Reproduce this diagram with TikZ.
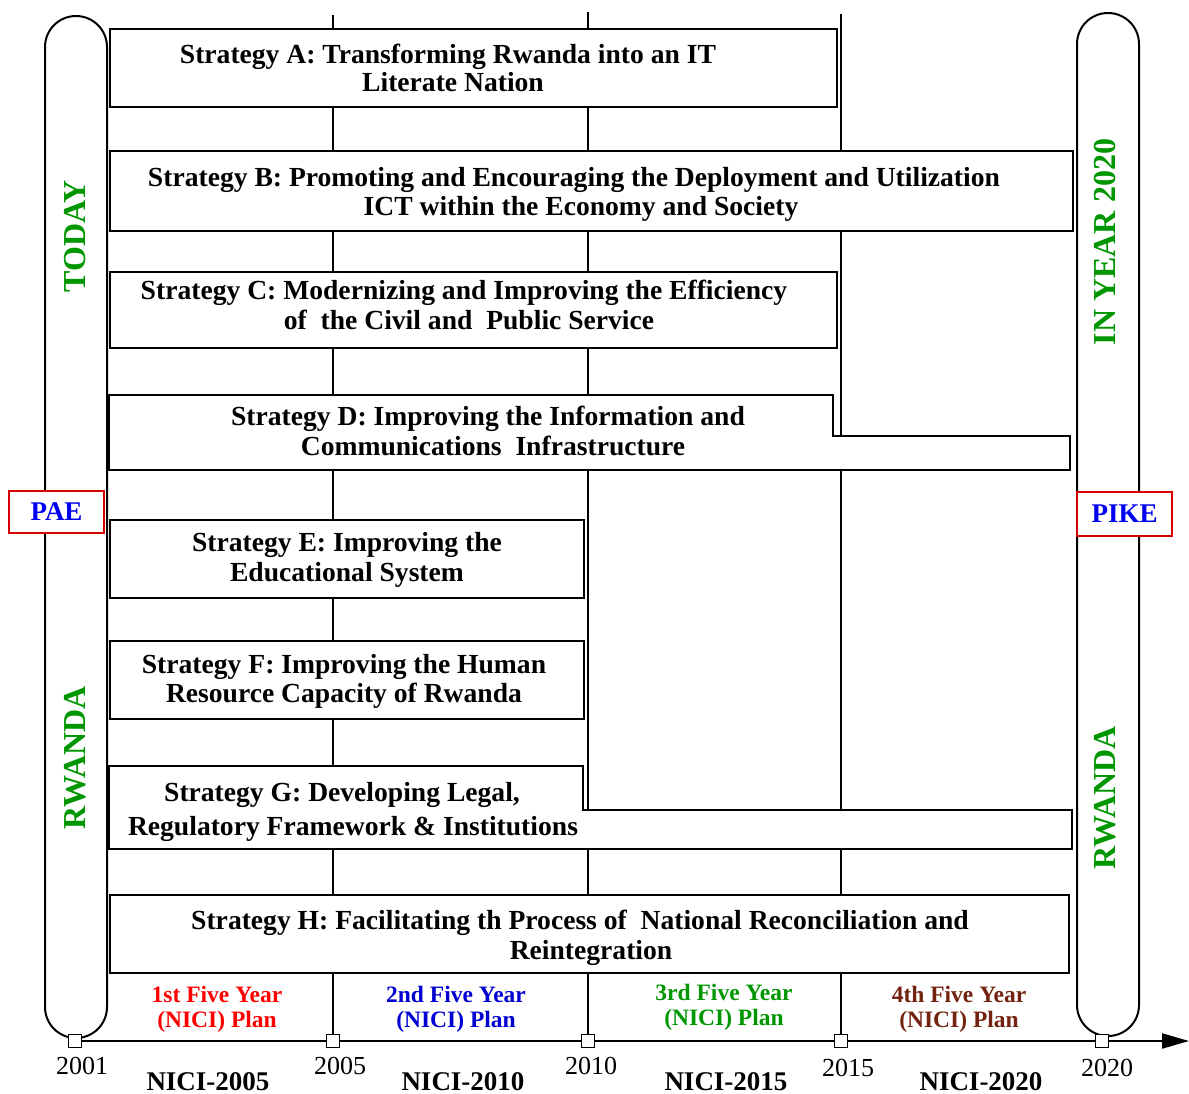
\documentclass[tikz,border=0pt]{standalone}
\usepackage{fontspec}
\setmainfont{Liberation Serif}
\usetikzlibrary{arrows.meta}
\definecolor{nicigreen}{RGB}{0,150,0}
\definecolor{nicired}{RGB}{255,0,0}
\definecolor{niciblue}{RGB}{0,0,210}
\definecolor{nicibrown}{RGB}{115,35,15}
\definecolor{tagred}{RGB}{215,0,0}
\definecolor{tagblue}{RGB}{0,0,240}

\begin{document}
\begin{tikzpicture}[x=1pt,y=-1pt,
  frame/.style={draw=black,line width=2pt,fill=white},
  boxnode/.style={frame,rectangle,inner sep=0pt,outer sep=0pt,anchor=north west},
  capsule/.style={draw=black,line width=2pt,rectangle,rounded corners=31pt,inner sep=0pt,anchor=north west,minimum width=62pt},
  strat/.style={anchor=base,inner sep=0pt,font=\fontsize{27.6}{29}\selectfont\bfseries},
  sidetext/.style={rotate=90,inner sep=0pt,text=nicigreen,font=\fontsize{32}{34}\selectfont\bfseries},
  tag/.style={draw=tagred,line width=1.6pt,fill=white,text=tagblue,inner sep=0pt,minimum width=95pt,font=\fontsize{27}{29}\selectfont\bfseries},
  tick/.style={draw=black,line width=1.6pt,fill=white,rectangle,inner sep=0pt,minimum size=13pt},
  divider/.style={draw=black,line width=1.8pt},
  plan/.style={align=center,inner sep=0pt,font=\fontsize{23.5}{25}\selectfont\bfseries},
  year/.style={anchor=base,inner sep=0pt,font=\fontsize{26}{28}\selectfont},
  nici/.style={anchor=base,inner sep=0pt,font=\fontsize{27}{29}\selectfont\bfseries}
]
\useasboundingbox (0,0) rectangle (1189,1094);

% side capsules
\node[capsule,minimum height=1022pt] (capL) at (44,15) {};
\node[capsule,minimum height=1023pt] (capR) at (1076,12) {};

% time axis ticks
\node[tick] (m2001) at (75,1041) {};
\node[tick] (m2005) at (333,1041) {};
\node[tick] (m2010) at (588,1041) {};
\node[tick] (m2015) at (841,1041) {};
\node[tick] (m2020) at (1102,1041) {};
\coordinate (t2005) at (333,15);
\coordinate (t2010) at (588,12);
\coordinate (t2015) at (841,14);
\coordinate (tip) at (1189,1041);

% five-year dividers
\draw[divider] (t2005) -- (m2005.north);
\draw[divider] (t2010) -- (m2010.north);
\draw[divider] (t2015) -- (m2015.north);

% axis
\draw[line width=2pt,-{Triangle[length=27pt,width=15pt]}] (m2001.east) -- (tip);
\node[tick] at (m2001) {};
\node[tick] at (m2005) {};
\node[tick] at (m2010) {};
\node[tick] at (m2015) {};
\node[tick] at (m2020) {};

% strategy boxes
\node[boxnode,minimum width=727pt,minimum height=78pt] (boxA) at (110,29) {};
\node[boxnode,minimum width=963pt,minimum height=80pt] (boxB) at (110,151) {};
\node[boxnode,minimum width=727pt,minimum height=76pt] (boxC) at (110,272) {};
\draw[frame] (109,395) -- (833,395) -- (833,436) -- (1070,436) -- (1070,470) -- (109,470) -- cycle;
\node[boxnode,minimum width=474pt,minimum height=78pt] (boxE) at (110,520) {};
\node[boxnode,minimum width=474pt,minimum height=78pt] (boxF) at (110,641) {};
\draw[frame] (109,766) -- (583,766) -- (583,810) -- (1072,810) -- (1072,849) -- (109,849) -- cycle;
\node[boxnode,minimum width=959pt,minimum height=78pt] (boxH) at (110,895) {};

% strategy texts
\node[strat] (a1) at (448,64) {Strategy A: Transforming Rwanda into an IT};
\node[strat] (a2) at (453,92) {Literate Nation};
\node[strat] (b1) at (574,187) {Strategy B: Promoting and Encouraging the Deployment and Utilization};
\node[strat] (b2) at (581,216) {ICT within the Economy and Society};
\node[strat] (c1) at (464,299) {Strategy C: Modernizing and Improving the Efficiency};
\node[strat] (c2) at (469,329) {of~ the Civil and~ Public Service};
\node[strat] (d1) at (488,425) {Strategy D: Improving the Information and};
\node[strat] (d2) at (493,455) {Communications~ Infrastructure};
\node[strat] (e1) at (347,551) {Strategy E: Improving the};
\node[strat] (e2) at (347,581) {Educational System};
\node[strat] (f1) at (344,673) {Strategy F: Improving the Human};
\node[strat] (f2) at (344,702) {Resource Capacity of Rwanda};
\node[strat] (g1) at (342,801) {Strategy G: Developing Legal,};
\node[strat] (g2) at (353,835) {Regulatory Framework \& Institutions};
\node[strat] (h1) at (580,929) {Strategy H: Facilitating th Process of~ National Reconciliation and};
\node[strat] (h2) at (591,959) {Reintegration};

% side labels
\node[sidetext] (today) at (75,236) {TODAY};
\node[sidetext] (rwl) at (75,758) {RWANDA};
\node[sidetext] (year2020) at (1105,242) {IN YEAR 2020};
\node[sidetext] (rwr) at (1105,798) {RWANDA};
\node[tag,minimum height=42pt] (pae) at (56.5,512) {PAE};
\node[tag,minimum height=44pt] (pike) at (1124.5,514) {PIKE};

% plan labels
\node[plan,text=nicired] (p1) at (217,1009) {1st Five Year\\(NICI) Plan};
\node[plan,text=niciblue] (p2) at (456,1009) {2nd Five Year\\(NICI) Plan};
\node[plan,text=nicigreen] (p3) at (724,1007) {3rd Five Year\\(NICI) Plan};
\node[plan,text=nicibrown] (p4) at (959,1009) {4th Five Year\\(NICI) Plan};

% years
\node[year] (y2001) at (82,1074) {2001};
\node[year] (y2005) at (340,1074) {2005};
\node[year] (y2010) at (591,1074) {2010};
\node[year] (y2015) at (848,1076) {2015};
\node[year] (y2020) at (1107,1076) {2020};

% programme names
\node[nici] (n1) at (208,1090) {NICI-2005};
\node[nici] (n2) at (463,1090) {NICI-2010};
\node[nici] (n3) at (726,1090) {NICI-2015};
\node[nici] (n4) at (981,1090) {NICI-2020};
\end{tikzpicture}
\end{document}
